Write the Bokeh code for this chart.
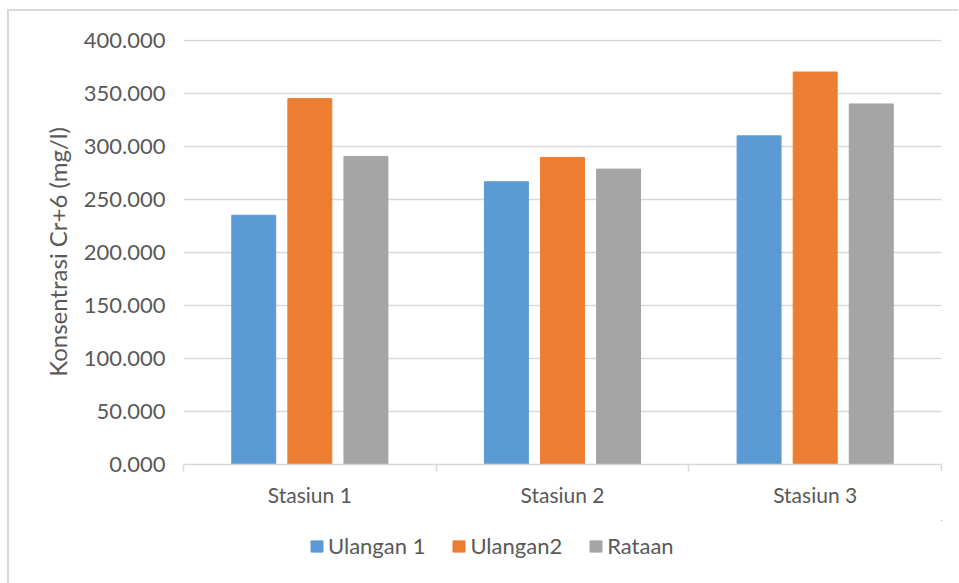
import numpy as np
from bokeh.plotting import figure
from bokeh.layouts import column
from bokeh.models import (ColumnDataSource, Range1d, FixedTicker, NumeralTickFormatter,
                          Legend, LegendItem)
from bokeh.transform import dodge
from bokeh.embed import file_html
from bokeh.resources import INLINE

categories = ["Stasiun 1", "Stasiun 2", "Stasiun 3"]
ulangan1 = [235.2, 266.8, 310.1]
ulangan2 = [345.2, 289.7, 370.3]
rataan = [290.7, 278.7, 340.2]
series_names = ["Ulangan 1", "Ulangan2", "Rataan"]
colors = ["#5B9BD5", "#ED7D31", "#A5A5A5"]
y_ticks = [0, 50, 100, 150, 200, 250, 300, 350, 400]

xc = np.arange(len(categories)) + 0.5
src = ColumnDataSource(dict(x=xc, u1=ulangan1, u2=ulangan2, r=rataan))

FONT = "Lato"
TXT = "#595959"

p = figure(width=949, height=509, output_backend="svg", toolbar_location=None,
           x_range=Range1d(0, len(categories)), y_range=Range1d(0, 401),
           min_border_left=174, min_border_right=17, min_border_top=28,
           min_border_bottom=56)
p.outline_line_color = None
p.background_fill_color = "white"
p.border_fill_color = "white"

offsets = [-0.222, 0.0, 0.222]
fields = ["u1", "u2", "r"]
for f, off, c in zip(fields, offsets, colors):
    p.vbar(x=dodge("x", off, range=p.x_range), top=f, width=0.174, source=src,
           fill_color=c, line_color=c, line_width=1)

# y axis
p.yaxis.ticker = FixedTicker(ticks=y_ticks)
p.yaxis.formatter = NumeralTickFormatter(format="0.000")
p.yaxis.axis_line_color = None
p.yaxis.major_tick_line_color = None
p.yaxis.minor_tick_line_color = None
p.yaxis.major_tick_in = 0
p.yaxis.major_tick_out = 0
p.yaxis.major_label_standoff = 18
p.yaxis.major_label_text_font = FONT
p.yaxis.major_label_text_font_size = "22px"
p.yaxis.major_label_text_color = TXT
p.yaxis.axis_label = "Konsentrasi Cr+6 (mg/l)"
p.yaxis.axis_label_text_font = FONT
p.yaxis.axis_label_text_font_size = "24px"
p.yaxis.axis_label_text_font_style = "normal"
p.yaxis.axis_label_text_color = TXT
p.yaxis.axis_label_standoff = 9

p.ygrid.grid_line_color = "#D9D9D9"
p.ygrid.grid_line_width = 1.5
p.ygrid.ticker = FixedTicker(ticks=y_ticks)
p.xgrid.grid_line_color = None

# x axis
p.xaxis.ticker = FixedTicker(ticks=list(xc), minor_ticks=list(range(len(categories) + 1)))
p.xaxis.major_label_overrides = {float(v): c for v, c in zip(xc, categories)}
p.xaxis.axis_line_color = "#D9D9D9"
p.xaxis.axis_line_width = 1.5
p.xaxis.major_tick_line_color = None
p.xaxis.major_tick_in = 0
p.xaxis.major_tick_out = 0
p.xaxis.minor_tick_line_color = "#D9D9D9"
p.xaxis.minor_tick_line_width = 1.5
p.xaxis.minor_tick_in = 0
p.xaxis.minor_tick_out = 7
p.xaxis.major_label_standoff = 10
p.xaxis.major_label_text_font = FONT
p.xaxis.major_label_text_font_size = "21px"
p.xaxis.major_label_text_color = TXT

# legend figure (its bars sit outside its visible range; only the legend shows)
lp = figure(width=949, height=63, output_backend="svg", toolbar_location=None,
            x_range=Range1d(-10, -9), y_range=Range1d(-10, -9),
            x_axis_location=None, y_axis_location=None,
            min_border=0, min_border_left=0, min_border_right=0,
            min_border_top=0, min_border_bottom=0)
lp.outline_line_color = None
lp.grid.grid_line_color = None
lrs = [lp.vbar(x="x", top=f, width=0.174, source=src, fill_color=c, line_color=c)
       for f, c in zip(fields, colors)]
legend = Legend(items=[LegendItem(label=n, renderers=[r]) for n, r in zip(series_names, lrs)],
                orientation="horizontal", location=(126, 24))
legend.border_line_color = None
legend.background_fill_alpha = 0
legend.label_text_font = FONT
legend.label_text_font_size = "22px"
legend.label_text_color = TXT
legend.glyph_width = 15
legend.glyph_height = 14
legend.label_standoff = 4
legend.spacing = 26
legend.padding = 0
legend.margin = 0
legend.label_height = 20
lp.add_layout(legend, "center")

layout = column(p, lp, spacing=0,
                styles={"margin-left": "7px", "margin-top": "9px",
                        "border-top": "2px solid #d9d9d9",
                        "border-left": "2px solid #d9d9d9"})

open("out.html", "w").write(file_html(layout, INLINE))
